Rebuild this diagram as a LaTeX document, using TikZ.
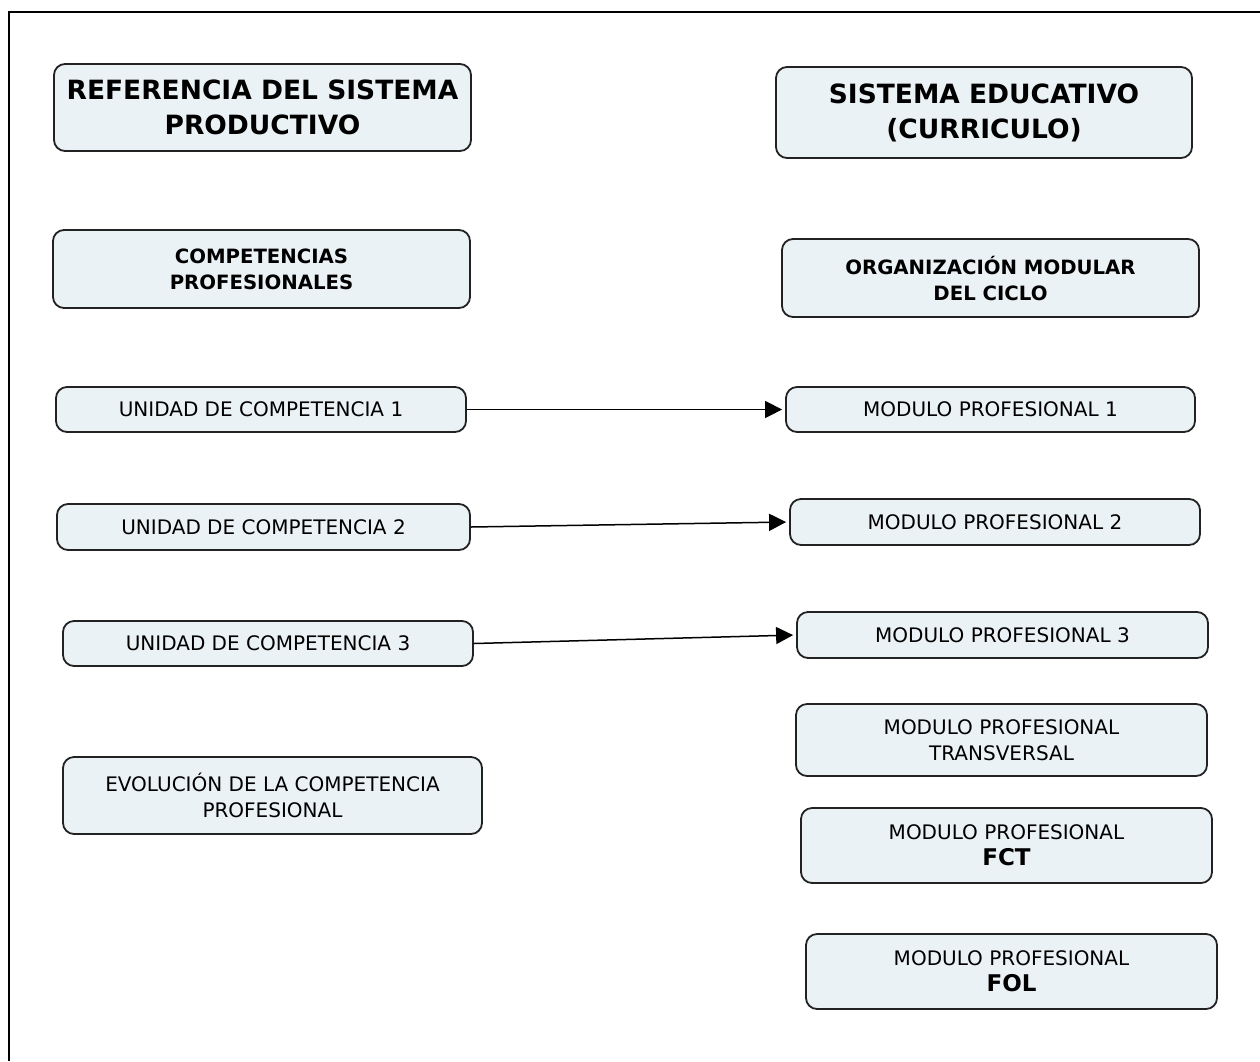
\documentclass[tikz,border=0pt]{standalone}
\usepackage{fontspec}
\setmainfont{DejaVu Sans}
\usetikzlibrary{arrows.meta}
\definecolor{boxfill}{RGB}{235,242,245}
\definecolor{boxline}{RGB}{34,34,34}
\newcommand{\titlefont}{\fontsize{26.5}{35}\selectfont\bfseries}
\newcommand{\headfont}{\fontsize{19.7}{26}\selectfont\bfseries}
\newcommand{\plainfont}{\fontsize{20}{26}\selectfont}
\newcommand{\tagfont}{\fontsize{23}{28}\selectfont\bfseries}
\tikzset{
  card/.style={draw=boxline, line width=1.8pt, fill=boxfill, rounded corners=11pt,
    align=center, inner sep=0pt},
  link/.style={line width=1.5pt, -{Triangle[length=17pt,width=17pt]}, shorten >=3pt}
}
\begin{document}
\begin{tikzpicture}[x=1pt,y=-1pt]
\useasboundingbox (0,0) rectangle (1260,1061);
% frame around the sheet
\draw[line width=2pt, black] (9,1061) -- (9,12) -- (1260,12);

% left column: productive system
\node[card, minimum width=417pt, minimum height=87pt, font=\titlefont] (ref) at (262.5,107.5)
  {REFERENCIA DEL SISTEMA\\PRODUCTIVO};
\node[card, minimum width=417pt, minimum height=78pt, font=\headfont] (comp) at (261.5,269)
  {COMPETENCIAS\\PROFESIONALES};
\node[card, minimum width=410pt, minimum height=45pt, font=\plainfont] (uc1) at (261,409.5)
  {UNIDAD DE COMPETENCIA 1};
\node[card, minimum width=413pt, minimum height=46pt, font=\plainfont] (uc2) at (263.5,527)
  {UNIDAD DE COMPETENCIA 2};
\node[card, minimum width=410pt, minimum height=45pt, font=\plainfont] (uc3) at (268,643.5)
  {UNIDAD DE COMPETENCIA 3};
\node[card, minimum width=419pt, minimum height=77pt, font=\plainfont] (evol) at (272.5,795.5)
  {EVOLUCIÓN DE LA COMPETENCIA\\PROFESIONAL};

% right column: educational system
\node[card, minimum width=416pt, minimum height=91pt, font=\titlefont] (edu) at (984,112.5)
  {SISTEMA EDUCATIVO\\(CURRICULO)};
\node[card, minimum width=417pt, minimum height=78pt, font=\headfont] (org) at (990.5,278)
  {ORGANIZACIÓN MODULAR\\DEL CICLO};
\node[card, minimum width=409pt, minimum height=45pt, font=\plainfont] (mp1) at (990.5,409.5)
  {MODULO PROFESIONAL 1};
\node[card, minimum width=410pt, minimum height=46pt, font=\plainfont] (mp2) at (995,522)
  {MODULO PROFESIONAL 2};
\node[card, minimum width=411pt, minimum height=46pt, font=\plainfont] (mp3) at (1002.5,635)
  {MODULO PROFESIONAL 3};
\node[card, minimum width=411pt, minimum height=72pt, font=\plainfont] (mpt) at (1001.5,740)
  {MODULO PROFESIONAL\\TRANSVERSAL};
\node[card, minimum width=411pt, minimum height=75pt, font=\plainfont] (fct) at (1006.5,845.5)
  {MODULO PROFESIONAL\\{\tagfont FCT}};
\node[card, minimum width=411pt, minimum height=75pt, font=\plainfont] (fol) at (1011.5,971.5)
  {MODULO PROFESIONAL\\{\tagfont FOL}};

% competence units map onto modules
\draw[link] (uc1.east) -- (mp1.west);
\draw[link] (uc2.east) -- (mp2.west);
\draw[link] (uc3.east) -- (mp3.west);
\end{tikzpicture}
\end{document}
